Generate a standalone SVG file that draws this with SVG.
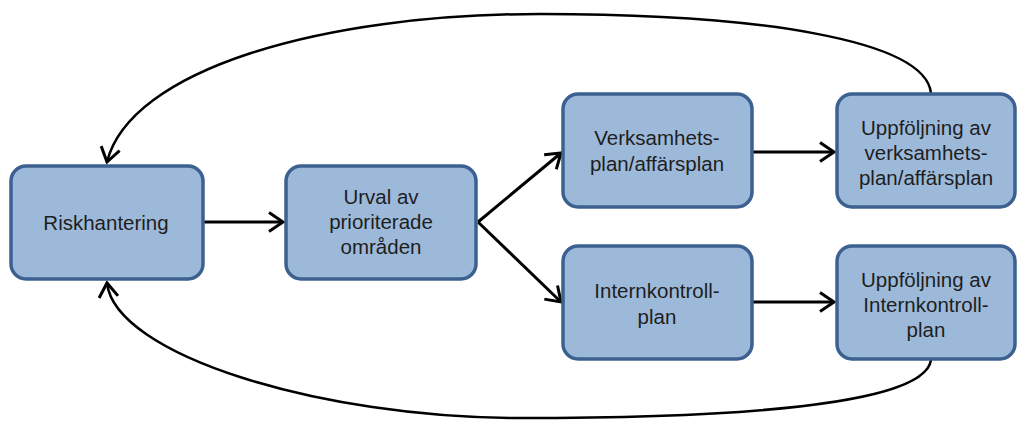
<svg xmlns="http://www.w3.org/2000/svg" width="1018" height="421" viewBox="0 0 1018 421">
<style>
.box{fill:#9DB9DA;stroke:#3C6190;stroke-width:3.5}
.t{font-family:"Liberation Sans",Arial,sans-serif;font-size:20.5px;fill:#1E1E1E;text-anchor:middle}
.c{fill:none;stroke:#000;stroke-width:3}
.cv{fill:none;stroke:#000;stroke-width:2.5}
</style>
<defs>
<marker id="ah" markerUnits="userSpaceOnUse" markerWidth="20" markerHeight="24" refX="16" refY="11" orient="auto">
<path d="M2,1.5 L16,11 L2,20.5" fill="none" stroke="#000" stroke-width="3" stroke-linejoin="miter"/>
</marker>
</defs>
<g id="connectors">
<path class="c" d="M204,222 L283,222" marker-end="url(#ah)"/>
<path class="c" d="M478,222 L561,153" marker-end="url(#ah)"/>
<path class="c" d="M478,222 L561,302" marker-end="url(#ah)"/>
<path class="c" d="M753,152 L834,152" marker-end="url(#ah)"/>
<path class="c" d="M753,302 L834,302" marker-end="url(#ah)"/>
<path class="cv" d="M931,93 C925,40 760,14 540,14 C320,14 130,70 107,162" marker-end="url(#ah)"/>
<path class="cv" d="M931,360 C925,402 760,418 520,418 C320,418 115,355 107,283" marker-end="url(#ah)"/>
</g>
<g id="riskhantering">
<rect class="box" x="11" y="166" width="192" height="113" rx="15"/>
<text class="t" x="106" y="230">Riskhantering</text>
</g>
<g id="urval">
<rect class="box" x="286" y="166" width="190" height="113" rx="15"/>
<text class="t" x="381" y="204">Urval av</text>
<text class="t" x="381" y="229">prioriterade</text>
<text class="t" x="381" y="254">områden</text>
</g>
<g id="verksamhetsplan">
<rect class="box" x="563" y="94" width="189" height="113" rx="15"/>
<text class="t" x="657" y="145">Verksamhets-</text>
<text class="t" x="657" y="171">plan/affärsplan</text>
</g>
<g id="uppfoljning-verksamhet">
<rect class="box" x="837" y="94" width="178" height="113" rx="15"/>
<text class="t" x="926" y="135">Uppföljning av</text>
<text class="t" x="926" y="160">verksamhets-</text>
<text class="t" x="926" y="185">plan/affärsplan</text>
</g>
<g id="internkontrollplan">
<rect class="box" x="563" y="246" width="189" height="113" rx="15"/>
<text class="t" x="657" y="298">Internkontroll-</text>
<text class="t" x="657" y="324">plan</text>
</g>
<g id="uppfoljning-intern">
<rect class="box" x="837" y="246" width="178" height="113" rx="15"/>
<text class="t" x="926" y="287">Uppföljning av</text>
<text class="t" x="926" y="312">Internkontroll-</text>
<text class="t" x="926" y="337">plan</text>
</g>
</svg>
